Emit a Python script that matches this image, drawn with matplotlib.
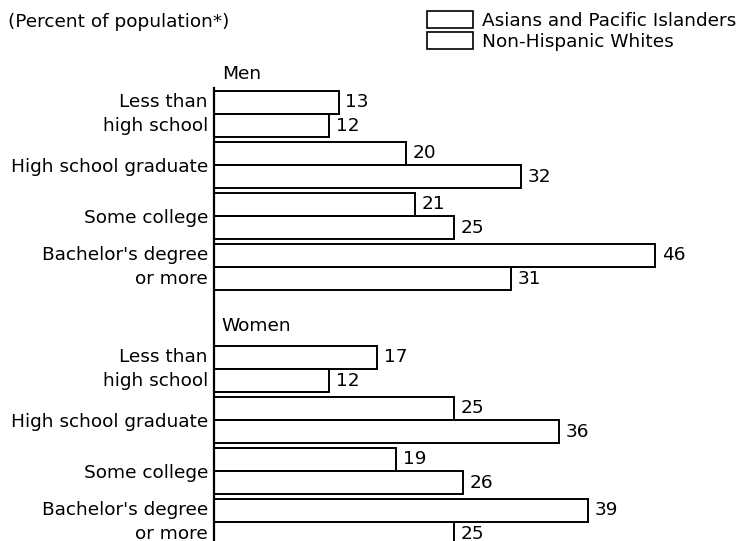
import matplotlib
matplotlib.use("Agg")
import matplotlib.pyplot as plt
from matplotlib.patches import Patch

plt.rcParams['font.family'] = ['DejaVu Sans']

categories = ["Less than\nhigh school", "High school graduate", "Some college", "Bachelor's degree\nor more"]
men_api = [13, 20, 21, 46]
men_nhw = [12, 32, 25, 31]
women_api = [17, 25, 19, 39]
women_nhw = [12, 36, 26, 25]
series_names = ["Asians and Pacific Islanders", "Non-Hispanic Whites"]
group_names = ["Men", "Women"]

fs = 13.3
fig = plt.figure(figsize=(7.38, 5.41), dpi=100)
# axes box in figure pixels: left 214, top 88, right edge 738, bottom 541
ax = fig.add_axes([214 / 738, 0, 524 / 738, (541 - 88) / 541])
ax.set_xlim(0, 524 / 9.59)
ax.set_ylim(8.37, -0.51)

h = 0.45
off = 0.23
groups = [(0, men_api, men_nhw, -0.78), (5, women_api, women_nhw, -0.85)]
for gi, (start, api, nhw, lab_off) in enumerate(groups):
    ax.text(0.8, start + lab_off, group_names[gi], fontsize=fs, ha="left", va="center", clip_on=False)
    for i, cat in enumerate(categories):
        y = start + i
        ax.barh(y - off, api[i], height=h, color="white", edgecolor="black", linewidth=1.4)
        ax.barh(y + off, nhw[i], height=h, color="white", edgecolor="black", linewidth=1.4)
        ax.text(api[i] + 0.7, y - off, str(api[i]), fontsize=fs, ha="left", va="center")
        ax.text(nhw[i] + 0.7, y + off, str(nhw[i]), fontsize=fs, ha="left", va="center")
        lines = cat.split("\n")
        if len(lines) == 2:
            ax.text(-0.63, y - off, lines[0], fontsize=fs, ha="right", va="center", clip_on=False)
            ax.text(-0.63, y + off, lines[1], fontsize=fs, ha="right", va="center", clip_on=False)
        else:
            ax.text(-0.63, y + 0.04, lines[0], fontsize=fs, ha="right", va="center", clip_on=False)

for s in ["top", "right", "bottom"]:
    ax.spines[s].set_visible(False)
ax.spines["left"].set_linewidth(1.6)
ax.set_xticks([])
ax.set_yticks([])

fig.text(8 / 738, 1 - 22 / 541, "(Percent of population*)", fontsize=fs, ha="left", va="center")

handles = [Patch(facecolor="white", edgecolor="black", linewidth=1.2) for _ in series_names]
fig.legend(handles, series_names, loc="upper left", bbox_to_anchor=(427 / 738, 1 - 11 / 541),
           frameon=False, fontsize=fs, handlelength=2.5, handleheight=1.08,
           handletextpad=0.5, borderpad=0, borderaxespad=0, labelspacing=0.1)

fig.savefig("out.png", dpi=100)
